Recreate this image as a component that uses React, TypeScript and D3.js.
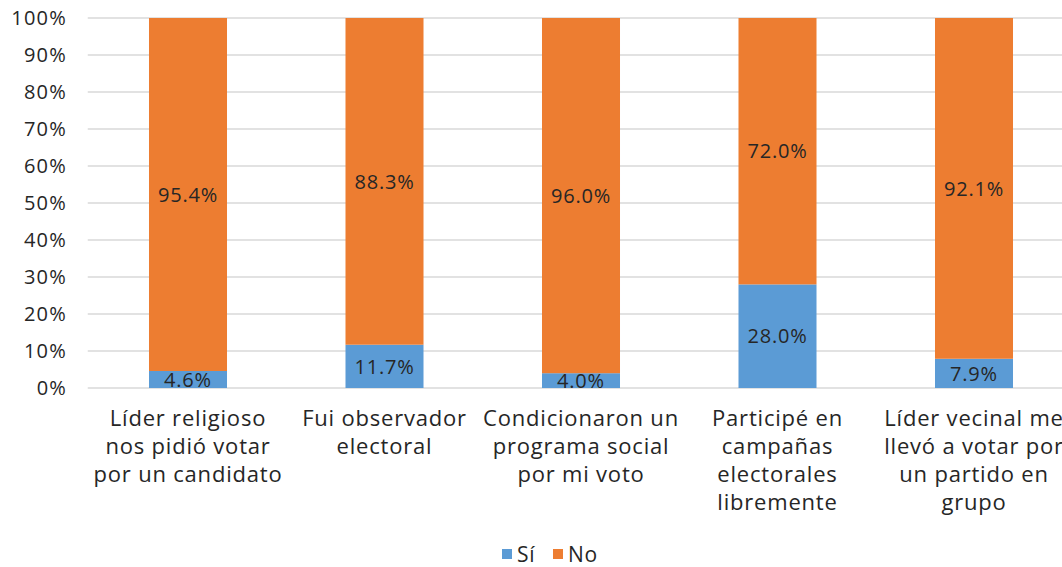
import * as d3 from "d3";

const categories = [
  "Líder religioso\nnos pidió votar\npor un candidato",
  "Fui observador\nelectoral",
  "Condicionaron un\nprograma social\npor mi voto",
  "Participé en\ncampañas\nelectorales\nlibremente",
  "Líder vecinal me\nllevó a votar por\nun partido en\ngrupo",
];
const si = [4.6, 11.7, 4.0, 28.0, 7.9];
const no = [95.4, 88.3, 96.0, 72.0, 92.1];
const seriesNames = ["Sí", "No"];
const yTicks = [0, 10, 20, 30, 40, 50, 60, 70, 80, 90, 100];

const colors = ["#5B9BD5", "#ED7D31"];
const font = "'Open Sans', Lato, sans-serif";
const textColor = "#262626";

export default function App() {
  const width = 1062;
  const height = 567;
  const left = 89.75;
  const step = 196.5;
  const top = 18;
  const bottom = 388;

  const x = d3
    .scaleBand<number>()
    .domain(d3.range(categories.length))
    .range([left, left + step * categories.length])
    .paddingInner(0.603)
    .paddingOuter(0.3015);
  const y = d3.scaleLinear().domain([0, 100]).range([bottom, top]);

  const stacked = d3
    .stack<number>()
    .keys([0, 1] as any)
    .value((i, k) => ((k as any) === 0 ? si[i] : no[i]))(d3.range(categories.length));

  const fmt = (v: number) => v.toFixed(1) + "%";
  const cx = (i: number) => (x(i) as number) + x.bandwidth() / 2;

  return (
    <div style={{ position: "fixed", left: 0, top: 0, width, height, background: "#fff" }}>
      <svg width={width} height={height} style={{ display: "block", fontFamily: font }}>
        {/* gridlines */}
        {yTicks.map((t) => (
          <line
            key={"g" + t}
            x1={left - 2}
            x2={width}
            y1={y(t)}
            y2={y(t)}
            stroke="#d9d9d9"
            strokeWidth={1.5}
          />
        ))}
        {yTicks.map((t) => (
          <text
            key={"t" + t}
            x={67}
            y={y(t)}
            dy="0.36em"
            textAnchor="end"
            fontSize={20}
            letterSpacing={1.2}
            fill={textColor}
          >
            {t}%
          </text>
        ))}

        {/* bars */}
        {stacked.map((layer, s) => (
          <g key={"s" + s} fill={colors[s]}>
            {layer.map((d, i) => (
              <rect
                key={i}
                x={x(i)}
                width={x.bandwidth()}
                y={y(d[1])}
                height={y(d[0]) - y(d[1])}
              />
            ))}
          </g>
        ))}

        {/* data labels */}
        {stacked.map((layer, s) =>
          layer.map((d, i) => (
            <text
              key={"l" + s + "-" + i}
              x={cx(i)}
              y={y((d[0] + d[1]) / 2)}
              dy="0.36em"
              textAnchor="middle"
              fontSize={20}
              letterSpacing={0.8}
              fill={textColor}
            >
              {fmt(d[1] - d[0])}
            </text>
          ))
        )}

        {/* category labels */}
        {categories.map((c, i) => (
          <text key={"c" + i} textAnchor="middle" fontSize={22} letterSpacing={0.8} fill={textColor}>
            {c.split("\n").map((line, j) => (
              <tspan key={j} x={cx(i)} y={418 + j * 28} dy="0.36em">
                {line}
              </tspan>
            ))}
          </text>
        ))}

        {/* legend */}
        {seriesNames.map((n, i) => (
          <g key={"lg" + i} transform={`translate(${502 + i * 51},549)`}>
            <rect width={10} height={10} fill={colors[i]} />
            <text x={15} y={5} dy="0.36em" fontSize={21} letterSpacing={0.8} fill={textColor}>
              {n}
            </text>
          </g>
        ))}
      </svg>
    </div>
  );
}
